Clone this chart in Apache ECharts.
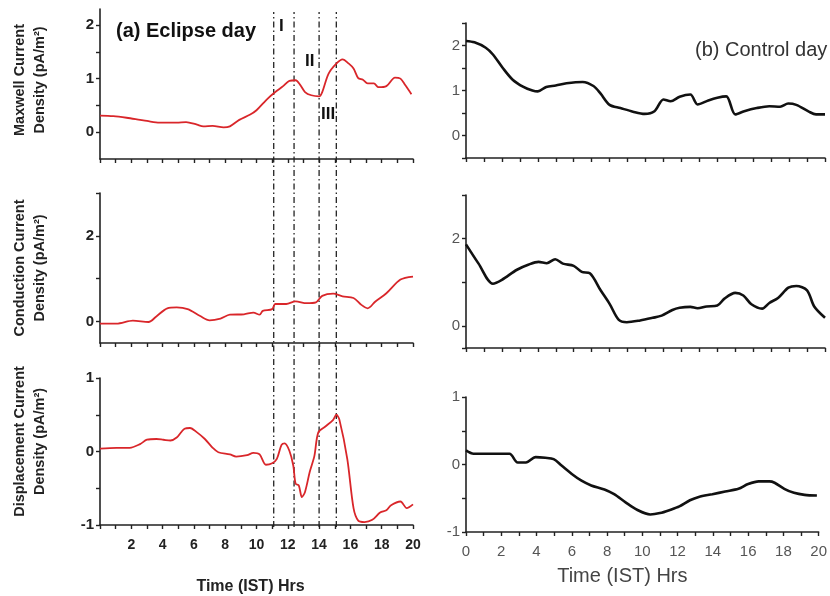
<!DOCTYPE html>
<html><head><meta charset="utf-8">
<script src="https://cdn.jsdelivr.net/npm/echarts@6/dist/echarts.min.js"></script>
<style>html,body{margin:0;padding:0;background:#fff}#c{width:830px;height:596px}</style>
</head><body><div id="c"></div>
<script>
// ---- data (hours IST, pA/m^2) ----
const eclipseMaxwell = [[0,0.31],[0.85,0.30],[1.7,0.27],[2.56,0.23],[3.0,0.21],[3.8,0.18],[4.9,0.18],[5.5,0.19],[6.2,0.14],[6.6,0.11],[7.2,0.12],[7.9,0.09],[8.3,0.11],[8.9,0.23],[9.6,0.33],[10.0,0.41],[10.65,0.61],[11.2,0.75],[11.7,0.86],[12.1,0.96],[12.5,0.97],[12.8,0.88],[13.1,0.75],[13.5,0.69],[14.0,0.67],[14.2,0.75],[14.6,1.09],[15.1,1.28],[15.5,1.36],[15.9,1.28],[16.2,1.19],[16.5,1.01],[16.8,0.98],[17.1,0.91],[17.5,0.91],[17.8,0.84],[18.3,0.86],[18.85,1.02],[19.2,1.0],[19.5,0.88],[19.9,0.71]];
const eclipseConduction = [[0,-0.05],[1.06,-0.05],[2.1,0.02],[3.1,-0.01],[3.6,0.12],[4.3,0.31],[4.9,0.33],[5.6,0.29],[6.4,0.13],[7.0,0.03],[7.7,0.07],[8.3,0.16],[9.2,0.17],[9.8,0.21],[10.2,0.16],[10.4,0.25],[11.0,0.29],[11.2,0.41],[11.9,0.41],[12.5,0.47],[13.2,0.43],[13.8,0.45],[14.2,0.60],[14.9,0.65],[15.5,0.59],[16.2,0.55],[16.7,0.39],[17.1,0.31],[17.6,0.47],[18.3,0.66],[19.2,0.98],[20.0,1.05]];
const eclipseDisplacement = [[0,0.04],[1.06,0.05],[1.9,0.05],[2.56,0.10],[3.0,0.16],[3.6,0.17],[4.05,0.16],[4.5,0.15],[4.9,0.19],[5.4,0.31],[5.75,0.32],[6.2,0.26],[6.7,0.17],[7.2,0.05],[7.56,-0.01],[8.3,-0.04],[8.7,-0.07],[9.4,-0.05],[9.8,-0.02],[10.2,-0.04],[10.6,-0.18],[11.0,-0.16],[11.3,-0.10],[11.6,0.09],[11.8,0.11],[12.1,0.01],[12.35,-0.19],[12.5,-0.44],[12.7,-0.46],[12.9,-0.62],[13.1,-0.55],[13.4,-0.28],[13.7,-0.06],[13.95,0.26],[14.4,0.34],[14.9,0.43],[15.1,0.50],[15.3,0.43],[15.8,-0.10],[16.2,-0.77],[16.5,-0.94],[16.9,-0.96],[17.4,-0.93],[17.9,-0.83],[18.3,-0.80],[18.6,-0.73],[19.2,-0.68],[19.6,-0.77],[20.0,-0.72]];
const controlMaxwell = [[0,2.10],[0.47,2.07],[1.1,1.95],[1.5,1.80],[2.05,1.50],[2.6,1.24],[3.2,1.08],[3.7,1.0],[4.0,0.98],[4.47,1.08],[5.0,1.11],[5.6,1.16],[6.5,1.19],[7.1,1.10],[7.5,0.93],[8.0,0.68],[8.6,0.61],[9.3,0.53],[9.95,0.48],[10.5,0.54],[11.0,0.80],[11.4,0.76],[11.9,0.86],[12.5,0.91],[12.9,0.69],[13.5,0.78],[14.0,0.84],[14.5,0.87],[15.0,0.47],[15.5,0.54],[16.2,0.61],[16.9,0.65],[17.5,0.64],[17.95,0.71],[18.4,0.68],[19.1,0.53],[19.5,0.47],[20.0,0.47]];
const controlConduction = [[0,1.87],[0.7,1.43],[1.5,0.97],[2.0,1.06],[2.84,1.29],[3.5,1.41],[4.04,1.47],[4.5,1.44],[4.97,1.53],[5.4,1.43],[6.0,1.38],[6.45,1.24],[6.9,1.21],[7.5,0.82],[8.0,0.51],[8.5,0.15],[8.96,0.09],[9.7,0.13],[10.4,0.19],[10.9,0.24],[11.5,0.37],[11.9,0.42],[12.5,0.44],[12.9,0.41],[13.4,0.45],[14.0,0.47],[14.4,0.63],[15.0,0.76],[15.45,0.70],[15.9,0.50],[16.5,0.40],[16.9,0.53],[17.4,0.65],[17.96,0.88],[18.4,0.92],[19.0,0.82],[19.4,0.45],[20.0,0.19]];
const controlDisplacement = [[0,0.21],[0.43,0.16],[1.17,0.16],[1.9,0.16],[2.47,0.16],[2.93,0.03],[3.4,0.03],[3.95,0.11],[4.5,0.10],[4.97,0.08],[5.4,-0.01],[6.0,-0.14],[6.55,-0.24],[7.1,-0.31],[7.85,-0.37],[8.4,-0.44],[9.05,-0.56],[9.7,-0.67],[10.45,-0.74],[11.0,-0.72],[11.6,-0.67],[12.1,-0.62],[12.7,-0.53],[13.2,-0.48],[13.97,-0.44],[14.7,-0.40],[15.45,-0.36],[16.0,-0.29],[16.6,-0.25],[17.2,-0.25],[17.5,-0.27],[18.05,-0.36],[18.6,-0.42],[19.2,-0.45],[19.9,-0.46]];
const eclipsePhaseLines = [11.1, 12.4, 14.0, 15.1];
const hourTicks = [0,1,2,3,4,5,6,7,8,9,10,11,12,13,14,15,16,17,18,19,20];
const leftHourLabels = [2,4,6,8,10,12,14,16,18,20];
const rightHourLabels = [0,2,4,6,8,10,12,14,16,18,20];
const yTitles = ['Maxwell Current\nDensity (pA/m\u00b2)','Conduction Current\nDensity (pA/m\u00b2)','Displacement Current\nDensity (pA/m\u00b2)'];

const FONT = 'Arial, "Liberation Sans", Helvetica, sans-serif';
const chart = echarts.init(document.getElementById('c'), null, {renderer:'canvas'});

const grids = [
  {left:100, top:9,   width:313, height:150},
  {left:100, top:193, width:313, height:150},
  {left:100, top:378, width:313, height:149},
  {left:466, top:23,  width:359, height:135},
  {left:466, top:195, width:359, height:153},
  {left:466, top:397, width:359, height:135},
  {left:100, top:12,  width:313, height:515}
];
const yRanges = [[-0.5,2.3],[-0.5,3],[-1,1],[-0.5,2.5],[-0.5,3],[-1,1]];
const yTicks = [[0,0.5,1,1.5,2],[0,1,2,3],[-1,-0.5,0,0.5,1],[-0.5,0,0.5,1,1.5,2,2.5],[-0.5,0,1,2,3],[-1,-0.5,0,0.5,1]];
const yLabels = [[0,1,2],[0,2],[-1,0,1],[0,1,2],[0,2],[-1,0,1]];

const axisLine = {show:true, onZero:false, lineStyle:{color:'#222', width:1.6}};
const xAxes = [], yAxes = [];
for (let i=0;i<6;i++){
  const left = i<3, bottom = (i===2||i===5);
  xAxes.push({
    type:'value', gridIndex:i, min:0, max:20,
    axisLine:axisLine,
    axisTick:{show:true, inside:false, length:4, customValues:hourTicks, lineStyle:{color:'#222', width:1.4}},
    axisLabel:{show:bottom, customValues: left?leftHourLabels:rightHourLabels, margin: left?13:12,
      fontFamily:FONT, fontSize: left?14:15, fontWeight: left?'bold':'normal', color: left?'#222':'#555'},
    splitLine:{show:false},
    name: bottom ? 'Time (IST) Hrs' : '',
    nameLocation:'middle', nameGap: left?54:34,
    nameTextStyle:{fontFamily:FONT, fontSize: left?16:20, fontWeight: left?'bold':'normal', color:left?'#222':'#444',
      padding: left?[0,12,0,0]:[0,40,0,0]}
  });
  yAxes.push({
    type:'value', gridIndex:i, min:yRanges[i][0], max:yRanges[i][1],
    axisLine:axisLine,
    axisTick:{show:true, inside:false, length:4, customValues:yTicks[i], lineStyle:{color:'#222', width:1.4}},
    axisLabel:{show:true, customValues:yLabels[i], margin:6,
      fontFamily:FONT, fontSize:15, fontWeight: left?'bold':'normal', color: left?'#222':'#555'},
    splitLine:{show:false},
    name: left ? yTitles[i] : '',
    nameLocation:'middle', nameRotate:90, nameGap:50,
    nameTextStyle:{fontFamily:FONT, fontSize:14.5, fontWeight:'bold', color:'#222', lineHeight:20,
      padding: i===2 ? [0,0,0,20] : (i===0?[0,0,0,8]:0)}
  });
}
// overlay axes for the phase lines
xAxes.push({type:'value', gridIndex:6, min:0, max:20, show:false});
yAxes.push({type:'value', gridIndex:6, min:0, max:1, show:false});

const mk = (data, idx, color, width) => ({
  type:'line', xAxisIndex:idx, yAxisIndex:idx, data:data, showSymbol:false, symbol:'none',
  smooth:0.3, lineStyle:{color:color, width:width}, z:3, animation:false
});
const RED = '#d9262a', BLK = '#111';
const series = [
  mk(eclipseMaxwell,0,RED,1.8),
  mk(eclipseConduction,1,RED,1.8),
  mk(eclipseDisplacement,2,RED,1.8),
  mk(controlMaxwell,3,BLK,2.6),
  mk(controlConduction,4,BLK,2.6),
  mk(controlDisplacement,5,BLK,2.6)
];
eclipsePhaseLines.forEach(x => series.push({
  type:'line', xAxisIndex:6, yAxisIndex:6, data:[[x,0],[x,1]], showSymbol:false, symbol:'none',
  lineStyle:{color:'#222', width:1.3, type:[6,3,1.5,3]}, z:2, animation:false, silent:true
}));

chart.setOption({
  animation:false,
  backgroundColor:'#fff',
  grid:grids,
  xAxis:xAxes, yAxis:yAxes, series:series,
  graphic:[
    {type:'text', left:116, top:21, style:{text:'(a) Eclipse day', font:'bold 20px '+FONT, fill:'#111'}},
    {type:'text', left:279, top:18, style:{text:'I', font:'bold 17px '+FONT, fill:'#111'}},
    {type:'text', left:305, top:53, style:{text:'II', font:'bold 17px '+FONT, fill:'#111'}},
    {type:'text', left:321, top:106, style:{text:'III', font:'bold 17px '+FONT, fill:'#111'}},
    {type:'text', left:695, top:40, style:{text:'(b) Control day', font:'normal 20px '+FONT, fill:'#333'}}
  ]
});
</script></body></html>
